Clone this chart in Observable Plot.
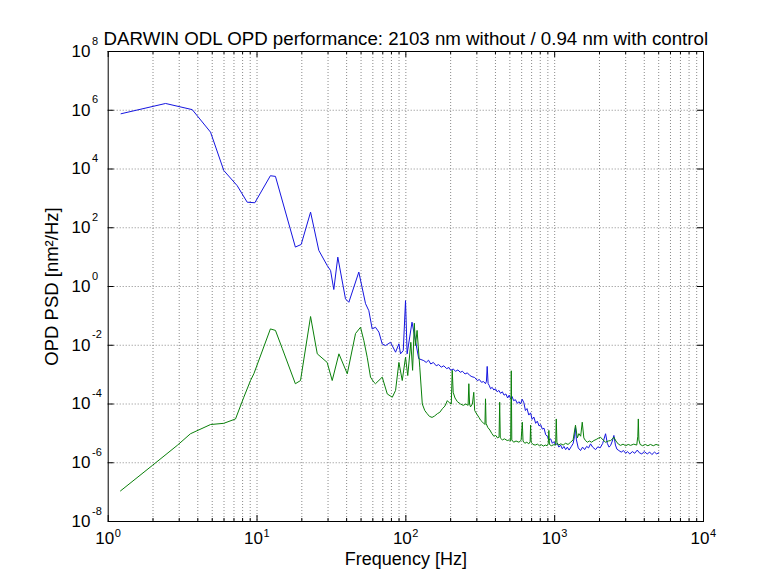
<!DOCTYPE html>
<html><head><meta charset="utf-8">
<script src="https://cdn.jsdelivr.net/npm/d3@7"></script>
<script src="https://cdn.jsdelivr.net/npm/@observablehq/plot@0.6"></script>
<style>html,body{margin:0;padding:0;background:#fff}svg{display:block}</style>
</head><body><div id="chart"></div>
<script>
const titleText = "DARWIN ODL OPD performance: 2103 nm without / 0.94 nm with control";
const xLabel = "Frequency [Hz]";
const yLabel = "OPD PSD [nm²/Hz]";
const xTickExponents = [0, 1, 2, 3, 4];
const yTickExponents = [-8, -6, -4, -2, 0, 2, 4, 6, 8];

// without control (blue)
const freqWithout = [1.22, 2.43, 3.67, 4.87, 5.98, 7.36, 8.59, 9.67, 12.3, 13.3, 18.1, 19.8, 22.9, 26.0, 29.6, 31.2, 32.8, 34.9, 39.3, 41.4, 48.3, 53.6, 56.4, 59.4, 62.5, 65.9, 69.4, 73.1, 78.9, 85.3, 89.8, 92.1, 96.1, 99.5, 102, 110, 116, 122, 132,
  137, 142, 147, 153, 160, 166, 173, 180, 188, 195, 200, 208, 216, 224, 232, 240, 250, 259, 268, 278, 290, 302, 312, 322, 333, 343, 348, 352, 357, 364, 371, 380, 390, 400, 411, 422, 433, 445, 457, 470, 483, 495, 505, 517, 530, 545, 561, 575, 590, 605, 621, 636, 652, 670, 689, 705, 725, 745, 764, 785, 805, 826, 848, 870, 892, 915, 940, 965, 988,
  1015, 1040, 1067, 1096, 1125, 1155, 1185, 1216, 1250, 1290, 1330, 1360, 1380, 1400, 1440, 1492, 1540, 1590, 1640, 1690, 1742, 1800, 1883, 1950, 2020, 2100, 2198, 2260, 2320, 2376, 2440, 2500, 2560, 2620, 2700, 2800, 2900, 3000, 3076, 3200, 3330, 3450, 3589, 3700, 3850, 4000, 4188, 4350, 4500, 4680, 4850, 5012];
const psdWithout = [7.6e5, 1.7e6, 1.05e6, 1.8e5, 8.9e3, 2.7e3, 7.4e2, 7.1e2, 5.9e3, 5.6e3, 22, 27, 340, 17, 5.2, 3.5, 0.79, 10, 0.38, 0.29, 3.1, 0.26, 0.15, 0.036, 0.041, 0.028, 0.011, 0.0098, 0.0126, 0.0058, 0.0112, 0.0051, 0.0066, 0.33, 0.0051, 0.061, 0.0145, 0.0035, 0.0030,
  2.6e-3, 3.1e-3, 2.3e-3, 2.6e-3, 2.0e-3, 2.2e-3, 1.8e-3, 2.0e-3, 1.6e-3, 1.75e-3, 1.4e-3, 1.55e-3, 1.3e-3, 1.45e-3, 1.2e-3, 1.3e-3, 1.05e-3, 1.15e-3, 9.5e-4, 8.5e-4, 8.0e-4, 6.3e-4, 6.8e-4, 5.5e-4, 5.8e-4, 4.9e-4, 6.0e-4, 1.9e-3, 5.0e-4, 4.2e-4, 3.3e-4, 3.7e-4, 3.0e-4, 3.3e-4, 2.6e-4, 2.9e-4, 2.3e-4, 2.6e-4, 2.0e-4, 2.2e-4, 1.6e-4, 2.0e-4, 1.5e-4, 1.8e-4, 1.3e-4, 1.4e-4, 1.05e-4, 1.2e-4, 1.0e-4, 1.45e-4, 1.1e-4, 6.0e-5, 7.0e-5, 4.2e-5, 5.0e-5, 3.0e-5, 3.6e-5, 2.2e-5, 2.6e-5, 1.8e-5, 2.0e-5, 1.4e-5, 1.5e-5, 9.0e-6, 8.0e-6, 6.0e-6, 6.5e-6, 4.6e-6, 5.2e-6,
  4.0e-6, 4.6e-6, 3.4e-6, 4.0e-6, 3.0e-6, 3.6e-6, 2.8e-6, 3.4e-6, 2.7e-6, 3.5e-6, 4.5e-6, 8.0e-6, 1.6e-5, 6.0e-6, 3.2e-6, 2.6e-6, 3.4e-6, 2.8e-6, 3.6e-6, 3.2e-6, 4.4e-6, 3.4e-6, 2.8e-6, 3.5e-6, 3.2e-6, 4.5e-6, 9.7e-6, 4.5e-6, 3.4e-6, 3.9e-6, 5.5e-6, 8.5e-6, 4.0e-6, 2.9e-6, 2.6e-6, 2.3e-6, 2.6e-6, 2.1e-6, 2.4e-6, 2.0e-6, 2.4e-6, 2.1e-6, 2.7e-6, 2.2e-6, 2.0e-6, 2.4e-6, 2.0e-6, 2.3e-6, 1.9e-6, 2.3e-6, 2.0e-6, 2.2e-6];

// with control (green)
const freqWith = [1.21, 1.98, 2.91, 3.57, 4.87, 5.98, 7.17, 8.15, 9.04, 9.52, 12.3, 13.3, 14.8, 18.1, 19.6, 22.9, 25.4, 29.6, 32.0, 35.5, 40.4, 45.9, 49.6, 52.2, 55.0, 57.9, 61.0, 62.5, 69.4, 75.0, 81.1, 85.3, 89.8, 94.6, 99.5, 103, 108, 111, 114, 116, 119, 124,
  129, 134, 139, 144, 150, 156, 163, 169, 176, 183, 190, 196, 202, 205, 208, 214, 222, 233, 243, 253, 262, 265, 268, 272, 280, 286, 290, 300, 310, 318, 328, 340, 343, 346, 355, 367, 378, 390, 402, 413, 423, 427, 431, 445, 460, 480, 495, 506, 511, 515, 530, 550, 575, 595, 606, 613, 630, 650, 670, 684, 689, 695, 715, 740, 765, 790, 815, 840, 865, 890, 905, 914, 922, 950, 985,
  1015, 1025, 1035, 1060, 1100, 1140, 1183, 1230, 1280, 1330, 1380, 1420, 1455, 1495, 1532, 1570, 1610, 1660, 1710, 1770, 1834, 1900, 1960, 2033, 2110, 2198, 2290, 2376, 2450, 2500, 2580, 2680, 2773, 2880, 3000, 3120, 3236, 3400, 3560, 3620, 3648, 3680, 3750, 3900, 4060, 4230, 4400, 4600, 4800, 5012];
const psdWith = [1.1e-7, 8.1e-7, 3.9e-6, 9.7e-6, 2.0e-5, 2.2e-5, 3.1e-5, 1.7e-4, 6.3e-4, 1.07e-3, 0.036, 0.032, 7.6e-3, 4.9e-4, 6.3e-4, 0.095, 5.1e-3, 2.6e-3, 6.3e-4, 5.1e-3, 1.07e-3, 0.025, 0.041, 0.0145, 3.9e-3, 8.2e-4, 5.5e-4, 4.9e-4, 8.2e-4, 2.2e-4, 1.7e-4, 2.9e-4, 2.6e-3, 6.3e-4, 3.9e-3, 9.3e-4, 0.0126, 1.4e-3, 0.056, 0.0098, 0.032, 1.8e-3,
  1.0e-4, 6.0e-5, 4.7e-5, 3.8e-5, 3.5e-5, 3.9e-5, 4.7e-5, 5.2e-5, 6.9e-5, 8.5e-5, 1.3e-4, 1.1e-4, 1.0e-4, 1.4e-3, 2.5e-4, 1.6e-4, 1.2e-4, 1.0e-4, 9.0e-5, 1.0e-4, 9.0e-5, 4.9e-4, 1.0e-4, 8.0e-5, 1.0e-4, 2.5e-4, 6.0e-5, 4.5e-5, 3.5e-5, 2.8e-5, 2.4e-5, 2.0e-5, 1.5e-4, 2.2e-5, 1.6e-5, 1.3e-5, 1.0e-5, 8.0e-6, 8.5e-6, 7.0e-6, 7.5e-6, 1.15e-4, 7.0e-6, 6.0e-6, 6.5e-6, 5.7e-6, 6.0e-6, 5.5e-6, 1.35e-3, 6.0e-6, 5.0e-6, 5.5e-6, 5.0e-6, 5.8e-6, 2.4e-5, 5.5e-6, 4.6e-6, 5.0e-6, 4.4e-6, 5.2e-6, 1.9e-5, 5.0e-6, 4.2e-6, 4.0e-6, 4.3e-6, 3.8e-6, 4.1e-6, 3.7e-6, 4.0e-6, 3.8e-6, 4.5e-6, 1.26e-5, 4.2e-6, 3.8e-6, 4.1e-6,
  4.0e-6, 3.1e-5, 5.0e-6, 4.0e-6, 4.4e-6, 4.0e-6, 4.6e-6, 4.2e-6, 5.0e-6, 6.0e-6, 1.9e-5, 7.0e-6, 9.8e-6, 8.0e-6, 2.4e-5, 7.0e-6, 5.7e-6, 5.0e-6, 5.5e-6, 5.0e-6, 5.7e-6, 6.2e-6, 6.8e-6, 7.4e-6, 6.0e-6, 5.0e-6, 5.5e-6, 5.7e-6, 6.5e-6, 7.4e-6, 5.5e-6, 4.3e-6, 3.9e-6, 4.3e-6, 3.8e-6, 4.2e-6, 3.9e-6, 4.3e-6, 4.0e-6, 8.0e-6, 3.1e-5, 6.0e-6, 4.2e-6, 3.8e-6, 4.2e-6, 3.8e-6, 4.2e-6, 3.8e-6, 4.2e-6, 3.9e-6];

const without = freqWithout.map((f, i) => ({f, p: psdWithout[i]}));
const withCtl = freqWith.map((f, i) => ({f, p: psdWith[i]}));

const W = 763, H = 575, mL = 107.7, mR = 60, mT = 51, mB = 54;
const plotW = W - mL - mR, plotH = H - mT - mB;
const font = "'Liberation Sans', Arial, Helvetica, sans-serif";

const xMajor = xTickExponents.map(e => 10 ** e);
const yMajor = yTickExponents.map(e => 10 ** e);
const xMinor = [];
for (let d = 0; d < 4; d++) for (let m = 2; m <= 9; m++) xMinor.push(m * 10 ** d);
const xGrid = xMajor.concat(xMinor).filter(v => v > 1 && v < 1e4);
const yGrid = yMajor.filter(v => v > 1e-8 && v < 1e8);
const gridStyle = {stroke: "#8a8a8a", strokeDasharray: "1,2", strokeWidth: 1};

const chart = Plot.plot({
  width: W, height: H,
  marginLeft: mL, marginRight: mR, marginTop: mT, marginBottom: mB,
  style: {fontFamily: font, background: "white", color: "black"},
  x: {type: "log", domain: [1, 1e4], axis: null},
  y: {type: "log", domain: [1e-8, 1e8], axis: null},
  marks: [
    Plot.ruleX(xGrid, gridStyle),
    Plot.ruleY(yGrid, gridStyle),
    Plot.line(without, {x: "f", y: "p", stroke: "#1515e0", strokeWidth: 1}),
    Plot.line(withCtl, {x: "f", y: "p", stroke: "#0a800a", strokeWidth: 1}),
    Plot.ruleX(xMajor, {stroke: "black", insetTop: plotH - 6}),
    Plot.ruleX(xMajor, {stroke: "black", insetBottom: plotH - 6}),
    Plot.ruleX(xMinor, {stroke: "black", insetTop: plotH - 3}),
    Plot.ruleX(xMinor, {stroke: "black", insetBottom: plotH - 3}),
    Plot.ruleY(yMajor, {stroke: "black", insetRight: plotW - 6}),
    Plot.ruleY(yMajor, {stroke: "black", insetLeft: plotW - 6}),
    Plot.frame({stroke: "black", strokeWidth: 1}),
    Plot.text(xTickExponents, {x: e => 10 ** e, frameAnchor: "bottom", text: () => "10", textAnchor: "middle", dx: -3.5, dy: 22, fontSize: 17, fill: "black"}),
    Plot.text(xTickExponents, {x: e => 10 ** e, frameAnchor: "bottom", text: e => String(e), textAnchor: "start", dx: 6.5, dy: 15, fontSize: 11, fill: "black"}),
    Plot.text(yTickExponents, {y: e => 10 ** e, frameAnchor: "left", text: () => "10", textAnchor: "end", dx: -17.7, fontSize: 17, fill: "black"}),
    Plot.text(yTickExponents, {y: e => 10 ** e, frameAnchor: "left", text: e => String(e), textAnchor: "start", dx: -16.2, dy: -10.5, fontSize: 11, fill: "black"}),
    Plot.text([titleText], {frameAnchor: "top", textAnchor: "middle", dy: -20, fontSize: 18.7, fill: "black"}),
    Plot.text([xLabel], {frameAnchor: "bottom", textAnchor: "middle", dy: 43.5, fontSize: 18, fill: "black"}),
    Plot.text([yLabel], {frameAnchor: "left", textAnchor: "middle", dx: -55.7, rotate: -90, fontSize: 18.5, fill: "black"})
  ]
});
document.getElementById("chart").appendChild(chart);
</script>
</body></html>
